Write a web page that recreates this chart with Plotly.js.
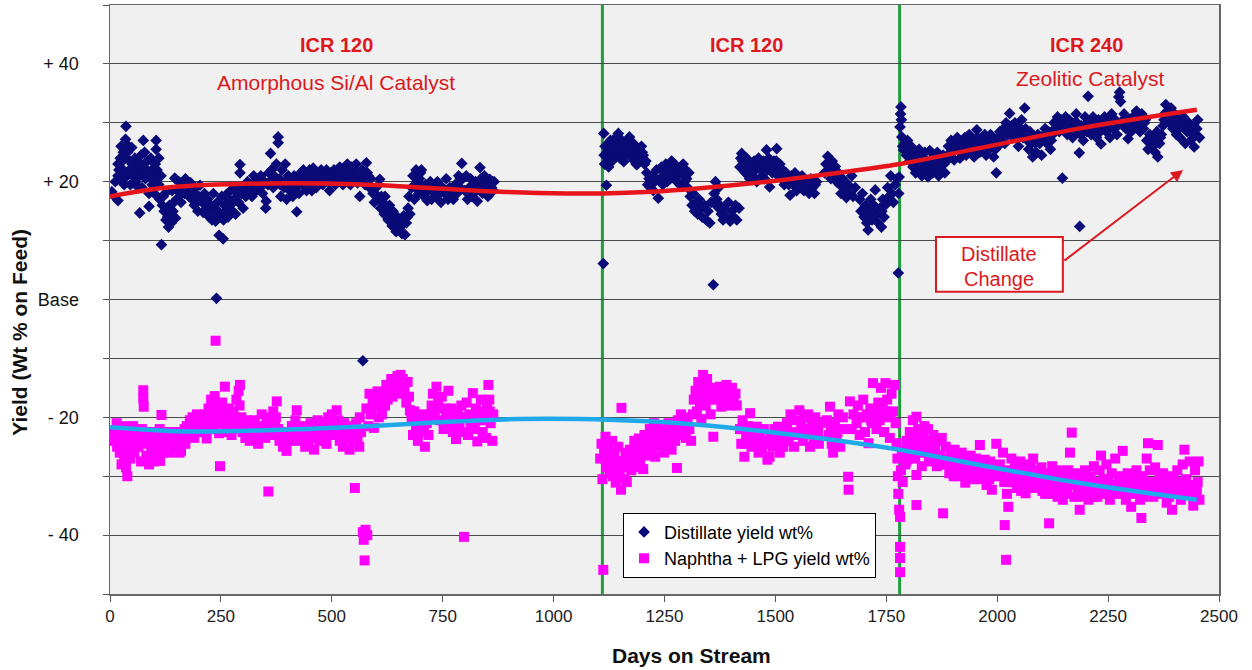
<!DOCTYPE html>
<html>
<head>
<meta charset="utf-8">
<script src="https://cdn.plot.ly/plotly-3.0.1.min.js"></script>
<style>html,body{margin:0;padding:0;background:#fff;}#chart{width:1252px;height:670px;}</style>
</head>
<body>
<div id="chart"></div>
<script>
// Distillate yield wt% (days on stream, yield change)
const distX = [4,10,12,18,18,18,23,23,25,30,30,32,35,36,38,38,42,44,46,49,50,52,56,58,60,62,64,66,67,70,72,72,75,78,80,84,86,88,88,92,94,95,98,100,102,104,104,106,110,110,112,115,116,118,122,124,126,130,132,134,138,140,142,146,148,150,155,158,160,165,168,170,175,178,182,188,190,193,198,200,203,208,210,213,218,220,224,228,230,233,236,238,240,242,246,248,252,255,256,260,262,266,270,272,276,280,283,286,290,293,293,296,300,302,306,310,313,318,320,324,328,330,334,338,340,344,348,351,352,356,358,362,364,368,370,375,379,379,382,385,388,392,395,398,402,405,408,412,415,418,421,424,426,430,433,436,440,443,446,450,452,455,458,462,465,470,473,476,480,484,488,492,495,498,502,505,508,512,515,518,522,525,528,532,535,538,542,545,548,552,555,558,563,565,568,570,572,575,578,582,585,588,593,596,600,604,608,610,614,618,620,624,627,630,634,636,638,642,645,648,652,655,658,662,665,668,672,674,676,680,683,686,690,693,696,700,702,705,708,712,715,718,722,725,730,734,738,742,746,750,754,758,762,766,770,774,778,782,786,789,793,795,800,803,806,810,813,816,820,824,828,832,834,836,840,844,848,852,856,860,864,866,
1112,1113,1114,1115,1119,1120,1122,1124,1128,1130,1132,1136,1138,1140,1146,1148,1150,1154,1156,1158,1162,1165,1168,1171,1174,1176,1180,1183,1186,1188,1192,1195,1198,1202,1205,1210,1212,1215,1218,1222,1225,1228,1232,1236,1240,1243,1246,1250,1253,1256,1260,1263,1266,1270,1272,1275,1278,1282,1285,1288,1292,1295,1298,1302,1305,1308,1312,1315,1318,1322,1325,1328,1332,1335,1340,1344,1348,1352,1355,1360,1362,1365,1368,1370,1372,1375,1378,1382,1385,1390,1394,1398,1402,1406,1410,1413,1418,1420,1422,1424,1428,1432,1435,1438,1442,1445,1448,1452,1455,1458,1462,1465,1470,1473,1476,1480,1482,1485,1487,1490,1493,1497,1500,1503,1506,1510,1514,1517,1520,1524,1528,1533,1536,1540,1544,1548,1552,1556,1560,1564,1568,1572,1576,1580,1584,1588,1593,1611,1614,1618,1622,1625,1628,1632,1635,1638,1642,1645,1648,1652,1656,1660,1664,1668,1672,1675,1680,1690,1693,1696,1700,1703,1706,1709,1712,1715,1718,1722,1725,1728,1732,1736,1739,1742,1745,1750,1753,1756,1760,1763,1766,1770,1774,1777,1778,1779,
1781,1782,1783,1784,1785,1787,1789,1792,1795,1798,1801,1803,1806,1810,1813,1816,1820,1824,1827,1830,1834,1837,1840,1844,1848,1852,1855,1858,1862,1865,1868,1872,1875,1878,1882,1886,1890,1893,1896,1900,1903,1906,1910,1913,1916,1920,1924,1927,1930,1934,1937,1940,1944,1948,1951,1954,1958,1961,1965,1968,1972,1975,1978,1982,1985,1988,1992,1995,1998,2002,2006,2010,2014,2017,2020,2024,2028,2032,2036,2040,2044,2048,2052,2055,2058,2062,2064,2068,2071,2074,2077,2080,2084,2088,2092,2096,2100,2104,2108,2112,2116,2120,2125,2128,2132,2136,2140,2144,2147,2150,2154,2158,2162,2166,2170,2174,2178,2182,2185,2186,2190,2194,2198,2202,2205,2208,2212,2216,2220,2224,2228,2234,2238,2242,2246,2250,2254,2258,2262,2266,2270,2274,2276,2278,2282,2286,2290,2295,2298,2302,2306,2310,2314,2318,2322,2326,2330,2334,2337,2340,2344,2348,2352,2356,2360,2362,2366,2370,2374,2377,2380,2384,2388,2392,2396,2400,2404,2408,2412,2416,2420,2424,2428,2432,2436,2440,2444,2448,2452,2456];
const distY = [18.3,17.5,20,16.8,21,23,24,20.5,26,22,25,19.5,27.2,29.4,24,21,26,22,19.5,25.8,23,21,24,20,22.5,23.5,19,21,14.7,24.5,22,19,27,25,20.5,23.5,21,18,15.8,24,22,19.5,21.5,18,23,27,25.5,22,24,19.5,17,21,9.3,16,15,18,13.5,14,12.3,16,13,18.5,15,20.6,13.8,17,20,19,16.5,19.5,18,20.5,19,17.5,19.8,18,16,19,15,17.5,19.4,16.5,14.8,18,15.5,17,14,16,13.5,18,15,13.3,0.2,16.5,10.9,14,17.5,10.3,13.5,15,17.8,14,16,18.5,15,17,14.5,19,16.5,22.9,21.5,18,15.5,19,17.5,20,18,19.5,17.5,21,20,18.5,20.5,19,21,18,20,15.5,16.7,19.5,21.5,24.8,22,19,21,23,27.6,26.6,20.5,17.5,22,19,23,17,21,18.5,20,17.5,21,19,14.9,20,18,21.5,19.5,22,20,18.5,21,22,20,18.5,22.3,20.5,19,21.5,20,22,19.5,21,22,20,18.5,21.5,20,22,19.5,21,20,22.5,21,19.5,22,20.5,23,21,19.5,22.5,20.5,21.5,23,19.8,17.5,20.5,22,-10.4,21,19.5,23.2,21,19,20.5,18,16.5,19,17,20.4,15.5,16.5,14.5,17.5,15,13.5,16,14,12.5,15,13,11.5,14,12,13.5,11.2,14.2,11,13,15.5,17.5,14.5,19,21,17,22,20,18,21.5,22,19,17.5,19.5,16.8,18.5,20,17,19,17.5,20,18,16.5,19,18,20.5,17,19,18,17,19.5,18,21,19,23.1,20.5,18.5,21,17,19,20.5,17.5,18.5,20,16.7,19,22.4,20.5,18,21,19,17.5,20.4,19,18.5,20,
6.1,28.2,24.5,23,19.4,26,24,22.5,27,25,23.5,26,24.5,27.5,28.2,26,24,27,25,23.4,26.5,24.8,27,27.6,25.5,24,26.5,24.5,23,22.9,25.5,24,26,24.5,23,21.5,19.5,20.5,19,21,18.5,20,22,17.2,20.5,22.5,19.5,21.5,23,20,22.5,20.5,23.5,23.2,21,22.5,20,22,19.5,21.5,23,20,22,19,21.5,17.5,16,18,15,16.5,14.5,17,15.5,14,16,13.5,15,13,16.5,2.5,18,20,17,15.7,19,16,14.5,13.5,15.5,14,16.5,13.3,15,14,16,13.5,15.5,22.5,24,24.8,23,21.5,24,22,20.5,23,21,23.5,22,20,24,22.5,21,23.5,20.5,25.4,22,24,19.1,23,21.5,23.5,22,25.6,21,23,20.5,22,19.5,21.5,20,17.7,21,19.5,21.5,18.5,20.5,19,21,18.5,20,19.5,18,20.5,19,18,20,21.5,23,24.3,22,20.5,23.5,21,22.6,20,21.5,19.5,18,20.5,19,17.3,19.5,18,21,17.5,19,17,15,18,14,16,13,11.8,15,17,13.5,16,18.6,14.5,13,15.5,12.3,17,14,16.2,19,17.5,21,18,16.5,19.5,20.5,4.5,18,20.8,
29.3,31.5,32.7,30.5,27.6,26,25.4,26.5,24.5,27,25,23.5,26,22.5,24.5,21.5,23.5,25.5,22,21,23.5,25,22,20.8,25.3,23,21.5,24.5,22.5,25,21,23.5,22,24.5,21.5,23.5,26,24.5,27,25,23.7,26.5,27.5,25.5,24,26.5,25,27.5,24.5,26,28,25.5,27,24.2,26.5,28.8,27,25,27.5,26,28,24.5,27,25.5,28,26.5,24.2,27,21.5,26,28.5,27,29,26.5,30,28,31.6,29.5,27.5,30,28.5,26,29,30.5,27.5,32.5,29,27,25.5,28.5,26.5,24.2,27.5,25,28,26.5,24.5,27.5,29,26.5,28.5,25.5,28,30,29,31,28.5,30.5,20.6,29.5,31,28,30.5,29,27.5,30,31.5,28.5,24.9,12.4,29.5,27,31,28.5,34.5,30,28,31,29.5,27.5,30.5,26.4,29,31,28.5,30,27.5,31.5,29,30.5,28,34.4,35.2,33.6,30,31.5,29,27.3,30.5,28.5,31,29.5,32,30,28.5,31.5,29,30.5,27,25.5,28,26,27.5,25,28.5,24.2,26.5,28,29.5,31.5,33.1,32,30,32.5,29,31.5,28,30.5,27.5,29.5,31,26.5,28.5,30,27,29.5,25.9,28,30.5,27.5];
// further distillate readings inside the dense clusters
const distXMore = [20,28,34,40,48,54,63,68,76,82,90,96,108,120,136,144,152,162,172,185,195,205,215,226,244,258,268,278,288,304,316,326,336,346,360,372,384,396,410,420,432,445,460,478,490,500,520,540,560,580,598,612,622,632,644,656,670,688,698,710,728,744,760,776,790,808,818,826,838,850,862,
1116,1126,1134,1142,1152,1160,1170,1178,1190,1200,1208,1220,1230,1248,1258,1268,1280,1290,1300,1426,1440,1450,1460,1468,1478,1492,1502,1512,1530,1550,1570,1590,1620,1640,1660,1700,1720,1740,
1794,1805,1812,1822,1832,1842,1850,1860,1870,1880,1888,1898,1908,1918,1926,1936,1946,1956,1966,1976,1986,1996,2004,2012,2022,2030,2038,2046,2056,2066,2076,2086,2094,2106,2114,2122,2130,2138,2146,2156,2164,2172,2180,2188,2196,2206,2214,2222,2232,2240,2248,2256,2264,2272,2284,2292,2300,2308,2316,2324,2332,2342,2350,2358,2368,2376,2386,2394,2402,2410,2418,2426,2434,2442,2450];
const distYMore = [22,23.5,21,25,21.5,22.5,21.5,23,22,22,21,20.5,20.5,17.5,15,16.5,18.5,18,18.5,17,17.5,17,16.5,15.5,15,16,17,16.5,18,18,18.5,19,19.5,19.5,20,20,19.5,20,19.5,20,20.5,19.5,21,20.5,21,21,21,21,21.5,21.5,18,17.5,16,14.5,13,12.5,14,19,20.5,18.5,18.5,19,18.5,18.5,20.5,18.5,19.5,18.5,20,19.5,20,
26,25.5,25,25.5,26.5,25,26,25,24.5,25,23.5,20,20.5,21,21.5,22,21,21.5,20.5,23.5,23,22,22.5,22,23,22.5,23.5,22,19.5,19.5,19,19.5,22,20.5,18.5,15.5,14.5,15,
25.5,24.5,23.5,24.5,22.5,23.5,22.5,24,22.5,23,24.5,25.5,26,25,26,26.5,26,27.5,26.5,26,27,25.5,27.5,28,29,28.5,29,27.5,28,28.5,27.5,26.5,27,28,27.5,27,29,30,29,29.5,30,29,30,28,29.5,29,30,29,28.5,30,29.5,30,30,29.5,30.5,30.5,29.5,30,31,30,30,27,27,26.5,27.5,30.5,31,30.5,30,29,30,29.5,28.5,28,29];

// Naphtha + LPG yield wt%
const naphX = [4,10,12,15,16,18,22,24,26,28,30,32,35,36,39,42,44,46,50,52,55,58,60,68,70,72,75,75,76,80,82,85,88,90,93,96,98,100,104,106,108,112,113,116,118,120,123,126,128,132,135,138,142,146,150,154,157,160,164,168,170,173,176,180,183,186,190,193,196,200,204,208,212,215,218,222,225,228,230,233,236,238,240,244,246,248,250,253,256,259,262,265,268,271,274,278,282,285,288,290,293,296,299,302,305,308,312,315,318,322,326,330,334,338,342,346,350,353,357,360,364,368,372,376,379,382,386,390,394,398,402,406,410,414,418,421,424,428,432,436,440,444,448,452,456,460,464,468,472,476,480,484,488,492,496,500,503,507,511,514,518,521,525,528,532,536,540,544,548,552,555,558,562,563,566,570,572,574,576,580,578,582,585,588,592,595,600,603,606,610,613,615,620,623,626,630,634,637,640,644,648,652,655,657,660,664,668,671,674,676,680,683,686,690,694,698,702,706,710,714,718,721,725,728,732,736,740,744,748,752,756,760,763,766,770,773,776,780,784,788,792,795,798,800,804,807,810,814,818,822,825,828,832,836,840,844,848,850,853,855,858,862,864,
1112,1105,1108,1110,1114,1117,1120,1123,1126,1129,1132,1134,1137,1140,1143,1146,1149,1152,1153,1156,1159,1162,1165,1168,1172,1175,1179,1182,1185,1188,1192,1195,1198,1202,1205,1208,1212,1217,1220,1223,1226,1229,1232,1236,1239,1242,1246,1249,1252,1256,1259,1262,1266,1270,1274,1278,1280,1283,1287,1290,1294,1298,1302,1306,1310,1314,1316,1320,1323,1326,1330,1333,1337,1340,1343,1346,1350,1354,1357,1360,1362,1368,1371,1375,1378,1382,1386,1390,1394,1398,1402,1406,1410,1413,1420,1423,1426,1430,1434,1438,1443,1446,1450,1454,1458,1462,1466,1470,1474,1478,1482,1487,1490,1494,1498,1502,1506,1510,1514,1518,1522,1526,1530,1534,1538,1542,1546,1550,1554,1558,1562,1566,1570,1574,1578,1582,1586,1590,1594,1598,1602,1616,1620,1623,1627,1630,1634,1638,1642,1646,1650,1652,1664,1665,1668,1672,1676,1683,1686,1690,1694,1698,1702,1706,1710,1714,1718,1720,1724,1728,1732,1735,1738,1742,1745,1748,1752,1755,1758,1762,1765,1768,1771,1773,1775,1776,1777,1779,1781,1781,1781,1781,
1783,1785,1787,1790,1793,1796,1800,1803,1806,1810,1814,1818,1818,1818,1822,1826,1830,1833,1836,1840,1844,1848,1852,1856,1860,1864,1868,1872,1875,1878,1880,1884,1888,1892,1896,1900,1904,1908,1912,1916,1920,1924,1928,1932,1936,1940,1944,1948,1952,1956,1961,1964,1968,1972,1976,1980,1984,1988,1992,1998,2002,2006,2013,2016,2017,2020,2022,2025,2028,2032,2036,2040,2044,2048,2052,2056,2060,2064,2068,2072,2076,2081,2084,2088,2092,2096,2100,2104,2108,2112,2117,2120,2124,2128,2132,2136,2140,2144,2148,2152,2155,2160,2164,2168,2170,2174,2178,2182,2186,2190,2194,2198,2202,2206,2210,2214,2218,2222,2226,2231,2234,2238,2242,2246,2250,2254,2258,2262,2266,2270,2274,2278,2283,2286,2290,2294,2298,2302,2306,2310,2314,2318,2322,2325,2328,2332,2337,2340,2344,2348,2352,2356,2360,2362,2366,2370,2374,2378,2382,2386,2390,2394,2398,2402,2406,2410,2414,2418,2422,2426,2430,2434,2438,2442,2446,2450,2454,2456];
const naphY = [-22.2,-24,-22.5,-21,-25,-23,-26,-22,-28,-24,-21.5,-26.5,-23,-28.5,-30,-25,-22,-27,-24.5,-21.5,-26,-23,-25,-24,-27.5,-22,-15.4,-16.8,-18.2,-23,-26.5,-22.5,-28,-24,-26,-22.5,-25,-27.5,-23,-26,-24.5,-22,-27.4,-19.6,-24,-26,-23,-25.5,-22.5,-24,-26,-23,-25,-22.5,-24.5,-23,-26,-25.7,-23.5,-22,-24.5,-21.5,-23,-20.5,-22.5,-20,-23.5,-21,-19.5,-22,-20.5,-22.5,-19.5,-21,-23.6,-18.5,-20.5,-17,-22,-19,-16.4,-7.0,-21,-18,-22.7,-28.3,-19.5,-17.5,-21,-14.8,-20,-22.5,-18.5,-21.5,-23,-19,-21,-17,-22,-15.5,-14.5,-20,-22.5,-21,-23.5,-20.5,-22,-24,-21,-23,-20.5,-22.5,-24.5,-21.5,-19.5,-22,-23.5,-20,-32.6,-21.5,-23,-19,-20.5,-17.3,-22,-24,-22.5,-25,-23,-25.7,-22.5,-24,-21.5,-23.5,-20.5,-18.8,-22,-24,-21.5,-23,-25,-22,-24.5,-21,-23.5,-25.5,-22.5,-20.5,-24,-22,-23.5,-21,-24.5,-20,-22.5,-19.5,-23,-21.5,-18.8,-20.5,-24,-22,-25,-21,-23.5,-21.5,-25.5,-22,-24,-32,-21,-23.5,-25,-20,-22.5,-39.5,-40.8,-44.3,-39.1,-40,-18.5,-21.5,-16,-19.5,-17,-21.8,-18,-15.6,-20,-17,-19.5,-16.5,-18,-14.5,-17,-15.5,-13.5,-16.5,-14,-15.5,-13,-14.5,-12.8,-16,-13.5,-15,-17.5,-14,-16.5,-18.8,-20.5,-23,-19,-21.5,-24,-20,-22.5,-19.5,-25,-21,-23,-20,-18,-16,-19.5,-14.8,-17.5,-20.5,-16.5,-22,-18.5,-20,-15.5,-21,-18.5,-22.5,-20,-23.7,-19,-21.5,-18,-22.5,-40.3,-20,-17.5,-23,-19.5,-21.5,-15.9,-22,-18.5,-24.1,-20,-17,-22.5,-19,-23.5,-17.5,-14.5,-17,-21,-24,-19.5,
-45.9,-27,-24.5,-30.5,-26,-23.3,-28.5,-25,-29.5,-27,-24,-30,-26.5,-31.1,-28,-25,-29.5,-32.3,-18.4,-27.5,-30.5,-26,-31,-28.5,-25.5,-29,-27,-24,-28.5,-26,-23.6,-27.5,-25,-28.8,-23,-26.5,-24,-22,-25.5,-23,-21,-26.7,-24,-22.5,-25,-21.5,-23.5,-26,-22,-24.5,-21,-23,-25.5,-22,-24,-28.6,-20.5,-23,-19.5,-22.5,-21,-23.5,-20,-22,-24,-19.5,-17,-15.5,-19,-14,-17.5,-20.3,-12.8,-15,-18,-13.5,-16.5,-19.5,-15,-23.3,-17,-15,-16.5,-14.8,-18.2,-15.5,-17,-14.5,-16,-18,-15,-17.5,-16,-18,-22,-24.5,-20.5,-26.7,-23,-21.5,-19.3,-25,-22.5,-24.5,-21.6,-26,-23.5,-25.5,-22,-24,-27.2,-26.7,-23,-25,-22,-24.5,-21.6,-26,-23,-25,-22.5,-21,-24,-19.5,-22.5,-25,-20.5,-23,-18.8,-21.5,-24,-20,-22.5,-19.5,-25,-21,-23.5,-20,-22,-24.5,-21,-20.5,-23,-18.2,-24.5,-26,-21,-23.5,-19.5,-25,-22,-20,-30.1,-32.3,-17.3,-22,-19.5,-21,-18,-23,-20,-17,-22.5,-19.5,-24.4,-18.5,-21,-14.2,-19,-22,-17.5,-20.5,-15,-18,-22.5,-14.2,-17,-20,-23.5,-16,-19,-14.5,-21,-24.4,-27,-30,-33,-35.7,-36.9,-42,-43.9,-46.3,
-29,-26.5,-31,-25.6,-28,-24,-27,-22.5,-25.5,-20.5,-23.5,-19.9,-29.8,-34.9,-22,-25,-28.3,-23.5,-21.5,-26,-22,-24.5,-27,-23,-25.5,-28.3,-24,-26.5,-23.5,-36.3,-27.5,-25,-27,-29.5,-26,-28.5,-25.5,-30,-27,-29,-26,-28,-31.1,-27.5,-29.5,-26.5,-28.5,-30.5,-27,-29,-24.7,-28,-30,-27.2,-31.5,-29,-27.5,-32.3,-28.5,-24.5,-30,-28,-26,-31,-38.3,-44.2,-33,-35.2,-29.5,-27,-31,-28.5,-32,-30,-27.5,-31,-29,-32.9,-28,-30.5,-28.5,-27,-31.5,-29,-32,-30,-28.5,-31,-33,-29.5,-38,-31.5,-28.3,-32,-30,-33.5,-29,-31.5,-34,-30,-32.5,-29,-26,-22.6,-31,-33.5,-29.5,-32,-35.7,-30.5,-33,-29,-31.5,-34,-30,-32.5,-28.3,-31,-33.5,-29,-26.5,-31.5,-33,-28,-30.5,-34,-29.5,-31.5,-27,-32.5,-30,-33,-25.7,-31,-34,-29.5,-32,-35.2,-30.5,-33,-29,-31.5,-34,-37.1,-30,-32.5,-27,-24.4,-29,-31.5,-33.5,-28.5,-32,-24.7,-30,-33,-29.5,-31.5,-34.5,-30,-32.5,-35.7,-30.5,-33,-29,-31.5,-34,-28,-25.5,-30.5,-33,-27.5,-31.5,-35,-29,-32.5,-27.5,-34];
// further naphtha + LPG readings inside the dense clusters
const naphXMore = [20,34,40,48,64,86,102,110,130,148,162,178,192,206,220,232,242,254,266,280,292,306,320,336,348,362,374,388,400,416,434,450,466,486,505,520,538,556,590,605,618,632,646,662,678,692,708,724,742,758,778,790,812,826,842,856,
1116,1128,1138,1150,1160,1170,1182,1194,1210,1225,1240,1255,1268,1285,1300,1335,1348,1380,1400,1432,1448,1468,1484,1500,1520,1540,1560,1580,1596,1625,1640,1688,1700,1716,1730,1750,1760,
1795,1808,1815,1828,1838,1846,1858,1866,1874,1886,1894,1902,1910,1918,1926,1934,1942,1950,1958,1966,1974,1982,1990,2000,2010,2019,2030,2038,2046,2054,2062,2070,2078,2086,2094,2102,2110,2118,2126,2134,2142,2150,2158,2166,2176,2184,2192,2200,2208,2216,2224,2232,2240,2248,2256,2264,2272,2280,2288,2296,2304,2312,2320,2330,2338,2346,2354,2364,2372,2380,2388,2396,2404,2412,2420,2428,2436,2444,2452,2448];
const naphYMore = [-23.5,-25,-26.5,-23.5,-25,-24.5,-24.5,-25,-24.5,-23.5,-24.5,-22,-22,-21.5,-21,-20.5,-19.5,-19,-20.5,-20,-18,-22,-22.5,-23,-21.5,-21.5,-20,-23.5,-24,-22,-22.5,-23,-22,-22.5,-21,-22.5,-23,-22.5,-18.5,-17.5,-16,-15,-14.5,-14.5,-19,-22,-22,-19.5,-18.5,-19,-21.5,-20,-20.5,-20.5,-20.5,-19,
-27,-26,-28.5,-27.5,-28,-27,-26.5,-25.5,-25,-24,-23.5,-23,-23,-21.5,-21.5,-16.5,-17,-16.5,-16.5,-24.5,-23.5,-24,-24.5,-23.5,-23.5,-23,-22,-22.5,-22.5,-21.5,-22.5,-20,-20,-20.5,-19.5,-19,-19.5,
-27.5,-24,-27,-26,-24,-27.5,-26,-26.5,-28,-28,-27.5,-30,-28,-27.5,-29.5,-28,-30,-28,-30.5,-29,-29.5,-30.5,-30,-28.5,-30,-29,-31,-29.5,-30.5,-32.5,-30.5,-32,-30,-29.5,-31,-32.5,-31,-30,-33,-31.5,-32.5,-31.5,-33,-30.5,-31.5,-33.5,-32,-33,-31.5,-33.5,-31.5,-32.5,-30.5,-32,-31.5,-33,-31.5,-31,-32.5,-31,-32.5,-31,-32,-33.5,-31,-33,-31,-32,-31,-32.5,-33.5,-32,-31,-32.5,-33,-31.5,-33,-31.5,-31,-33.5];

// Trend lines
const distTrendX = [0,130,350,580,730,880,1030,1110,1220,1330,1480,1630,1780,1960,2190,2450];
const distTrendY = [17.5,19.0,19.7,19.5,18.9,18.3,18.0,18.0,18.3,18.9,20.0,21.4,23.0,25.7,29.1,32.2];
const naphTrendX = [0,165,350,580,730,920,1060,1285,1510,1780,1960,2190,2450];
const naphTrendY = [-21.7,-22.4,-22.2,-21.5,-20.9,-20.3,-20.3,-21.0,-22.7,-25.5,-28.1,-31.2,-34.0];

// Axis ticks
const yTickVals = [50,40,30,20,10,0,-10,-20,-30,-40,-50];
const yTickText = ["","+ 40","","+ 20","","Base","","- 20","","- 40",""];
const xTickVals = [0,250,500,750,1000,1250,1500,1750,2000,2250,2500];

// Catalyst change days
const changeDays = [1110, 1780];
const periodLabels = ["ICR 120","ICR 120","ICR 240"];
const periodDays = [510, 1434, 2202];

const FONT = "Arial, 'Liberation Sans', sans-serif";
const RED = "#dc1820";

const traces = [
  {x: distX.concat(distXMore), y: distY.concat(distYMore), type: "scatter", mode: "markers", name: "Distillate yield wt%",
   marker: {symbol: "diamond", size: 9, color: "#0a0a78", line: {width: 0}}},
  {x: naphX.concat(naphXMore), y: naphY.concat(naphYMore), type: "scatter", mode: "markers", name: "Naphtha + LPG yield wt%",
   marker: {symbol: "square", size: 10, color: "#ff00ff", line: {width: 0}}},
  {x: distTrendX, y: distTrendY, type: "scatter", mode: "lines", showlegend: false, hoverinfo: "skip",
   line: {color: "#e8141c", width: 4.5, shape: "spline", smoothing: 1.0}},
  {x: naphTrendX, y: naphTrendY, type: "scatter", mode: "lines", showlegend: false, hoverinfo: "skip",
   line: {color: "#1eaae8", width: 4.5, shape: "spline", smoothing: 1.0}}
];

const shapes = changeDays.map(d => ({type: "line", xref: "x", yref: "y", x0: d, x1: d, y0: -50, y1: 50,
  line: {color: "#1f9e3e", width: 3}, layer: "below"}));
shapes.push({type: "rect", xref: "x", yref: "y", x0: 1862, x1: 2148, y0: 1.3, y1: 10.6,
  line: {color: RED, width: 2}, fillcolor: "#ffffff", layer: "above"});

const annotations = periodLabels.map((t, i) => ({x: periodDays[i], y: 43.2, xref: "x", yref: "y", text: "<b>" + t + "</b>",
  showarrow: false, font: {family: FONT, size: 20, color: RED}}));
annotations.push({x: 509, y: 36.8, xref: "x", yref: "y", text: "Amorphous Si/Al Catalyst", showarrow: false,
  font: {family: FONT, size: 21, color: RED}});
annotations.push({x: 2209, y: 37.6, xref: "x", yref: "y", text: "Zeolitic Catalyst", showarrow: false,
  font: {family: FONT, size: 21, color: RED}});
annotations.push({x: 2005, y: 7.8, xref: "x", yref: "y", text: "Distillate", showarrow: false,
  font: {family: FONT, size: 20, color: RED}});
annotations.push({x: 2005, y: 3.5, xref: "x", yref: "y", text: "Change", showarrow: false,
  font: {family: FONT, size: 20, color: RED}});
annotations.push({x: 2419, y: 22.0, xref: "x", yref: "y", ax: 2148, ay: 6.4, axref: "x", ayref: "y",
  text: "", showarrow: true, arrowhead: 2, arrowsize: 1.2, arrowwidth: 2, arrowcolor: RED, standoff: 0});
// Axis titles
annotations.push({x: 0.524, y: -0.105, xref: "paper", yref: "paper", xanchor: "center", yanchor: "middle",
  text: "<b>Days on Stream</b>", showarrow: false, font: {family: FONT, size: 21, color: "#111"}});
annotations.push({x: -0.0812, y: 0.445, xref: "paper", yref: "paper", xanchor: "center", yanchor: "middle",
  text: "<b>Yield (Wt % on Feed)</b>", textangle: -90, showarrow: false, font: {family: FONT, size: 21, color: "#111"}});

const layout = {
  width: 1252, height: 670,
  margin: {l: 110, r: 33, t: 5, b: 76},
  paper_bgcolor: "#ffffff", plot_bgcolor: "#f0f0f0",
  font: {family: FONT, size: 17, color: "#1a1a1a"},
  showlegend: true,
  legend: {x: 0.4626, y: 0.138, xanchor: "left", yanchor: "top", bgcolor: "#ffffff",
    bordercolor: "#000000", borderwidth: 1, font: {family: FONT, size: 18, color: "#000"},
    tracegroupgap: 0, itemwidth: 30},
  xaxis: {range: [0, 2500], tickvals: xTickVals, ticks: "outside", ticklen: 6, tickcolor: "#555",
    showgrid: false, zeroline: false, showline: true, linecolor: "#666", linewidth: 1.5, mirror: true,
    tickfont: {size: 17, color: "#222"}},
  yaxis: {range: [-50, 50], tickvals: yTickVals, ticktext: yTickText, ticks: "outside", ticklen: 6, tickcolor: "#555",
    showgrid: true, gridcolor: "#4a4a4a", gridwidth: 1, zeroline: false, showline: true, linecolor: "#666",
    linewidth: 1.5, mirror: true, ticklabelstandoff: 20,
    tickfont: {size: 18, color: "#111"}},
  shapes: shapes,
  annotations: annotations
};

Plotly.newPlot("chart", traces, layout, {displayModeBar: false, staticPlot: true});
</script>
</body>
</html>
